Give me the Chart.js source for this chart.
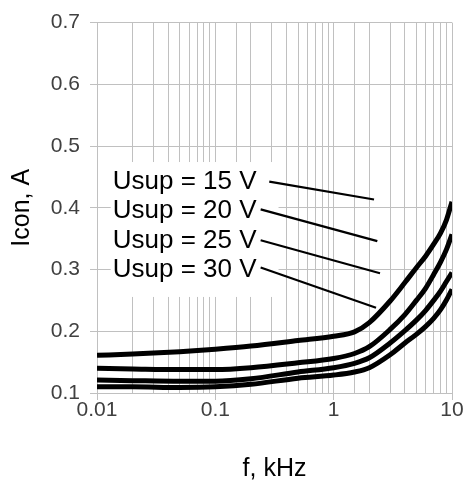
<!DOCTYPE html>
<html>
<head>
<meta charset="utf-8">
<script src="https://cdn.jsdelivr.net/npm/chart.js@4/dist/chart.umd.min.js"></script>
<style>
  html, body { margin: 0; padding: 0; background: #ffffff; }
  #wrap { width: 465px; height: 485px; }
</style>
</head>
<body>
<div id="wrap"><canvas id="c" width="465" height="485"></canvas></div>
<script>
// ---- data ----
const freqKHz = [0.01, 0.02, 0.05, 0.1, 0.2, 0.5, 1, 1.5, 2, 3, 4, 5, 6, 7, 8, 9, 10];
const seriesLabels = ["Usup = 15 V", "Usup = 20 V", "Usup = 25 V", "Usup = 30 V"];
const icon15V = [0.161, 0.163, 0.167, 0.171, 0.176, 0.185, 0.192, 0.199, 0.214, 0.249, 0.279, 0.303, 0.322, 0.341, 0.359, 0.381, 0.410];
const icon20V = [0.140, 0.139, 0.138, 0.138, 0.141, 0.149, 0.156, 0.164, 0.175, 0.203, 0.227, 0.250, 0.270, 0.292, 0.312, 0.333, 0.357];
const icon25V = [0.121, 0.120, 0.119, 0.119, 0.123, 0.134, 0.141, 0.148, 0.157, 0.181, 0.201, 0.218, 0.234, 0.250, 0.265, 0.281, 0.295];
const icon30V = [0.110, 0.110, 0.109, 0.110, 0.114, 0.124, 0.129, 0.134, 0.141, 0.162, 0.181, 0.195, 0.208, 0.221, 0.235, 0.251, 0.268];
const yTicks = [0.1, 0.2, 0.3, 0.4, 0.5, 0.6, 0.7];
const xTickLabels = ["0.01", "0.1", "1", "10"];

// annotation anchors (data coordinates: f in kHz, Icon in A)
const labelF = 0.01358;
const labelI = [0.4304, 0.3829, 0.3354, 0.2880];
const leaderStartF = [0.2857, 0.2415, 0.2415, 0.2415];
const leaderStartI = [0.4423, 0.3974, 0.3475, 0.3032];
const leaderEndF = [2.193, 2.338, 2.464, 2.280];
const leaderEndI = [0.4134, 0.3460, 0.2940, 0.2380];

const GRID = '#c0c0c0';
const FONT = "'Liberation Sans', Arial, sans-serif";

const curves = [icon15V, icon20V, icon25V, icon30V];
const datasets = [];
curves.forEach((vals, i) => {
  datasets.push({
    label: seriesLabels[i],
    data: freqKHz.map((f, k) => ({ x: f, y: vals[k] })),
    borderColor: '#000000',
    borderWidth: 5,
    pointRadius: 0,
    cubicInterpolationMode: 'monotone',
    fill: false
  });
});
for (let i = 0; i < 4; i++) {
  datasets.push({
    label: 'leader' + i,
    data: [{ x: leaderStartF[i], y: leaderStartI[i] }, { x: leaderEndF[i], y: leaderEndI[i] }],
    borderColor: '#000000',
    borderWidth: 2.2,
    pointRadius: 0,
    tension: 0,
    fill: false
  });
}

const isDecade = v => { const l = Math.log10(v); return Math.abs(l - Math.round(l)) < 1e-6; };

const labelPlugin = {
  id: 'usupLabels',
  beforeDatasetsDraw(chart) {
    const { ctx, scales: { x, y } } = chart;
    ctx.save();
    ctx.font = '26px ' + FONT;
    const left = x.getPixelForValue(labelF);
    let wmax = 0;
    seriesLabels.forEach(t => { wmax = Math.max(wmax, ctx.measureText(t).width); });
    const b0 = y.getPixelForValue(labelI[0]);
    const b3 = y.getPixelForValue(labelI[3]);
    ctx.fillStyle = '#ffffff';
    ctx.fillRect(left - 2, b0 - 27, wmax + 24, (b3 + 20) - (b0 - 27));
    ctx.fillStyle = '#000000';
    ctx.textAlign = 'left';
    ctx.textBaseline = 'alphabetic';
    seriesLabels.forEach((t, i) => {
      ctx.fillText(t, left, y.getPixelForValue(labelI[i]));
    });
    ctx.restore();
  }
};

new Chart(document.getElementById('c'), {
  type: 'line',
  data: { datasets },
  options: {
    responsive: false,
    animation: false,
    events: [],
    layout: { padding: { left: 0, right: 13, top: 19, bottom: 0 } },
    plugins: { legend: { display: false }, tooltip: { enabled: false } },
    scales: {
      x: {
        type: 'logarithmic',
        min: 0.01,
        max: 10,
        grid: {
          color: GRID,
          lineWidth: 1,
          tickLength: 7,
          tickColor: c => (c.tick && isDecade(c.tick.value)) ? GRID : 'rgba(0,0,0,0)'
        },
        border: { color: GRID, width: 1 },
        ticks: {
          autoSkip: false,
          maxRotation: 0,
          minRotation: 0,
          padding: 0,
          color: '#404040',
          font: { family: FONT, size: 21, lineHeight: 1.0 },
          callback: v => {
            if (!isDecade(v)) return '';
            const s = String(Number(v.toPrecision(6)));
            return xTickLabels.includes(s) ? s : '';
          }
        },
        title: {
          display: true,
          text: 'f, kHz',
          color: '#000000',
          font: { family: FONT, size: 25 },
          padding: { top: 0, bottom: 1 }
        },
        afterFit: s => { s.height = 92; }
      },
      y: {
        type: 'linear',
        min: 0.1,
        max: 0.7,
        grid: { color: GRID, lineWidth: 1, tickLength: 7, tickColor: GRID },
        border: { color: GRID, width: 1 },
        afterBuildTicks: s => { s.ticks = yTicks.map(v => ({ value: v })); },
        ticks: {
          padding: 10,
          color: '#404040',
          font: { family: FONT, size: 21 },
          callback: v => Number(v).toFixed(1)
        },
        title: {
          display: true,
          text: 'Icon, A',
          color: '#000000',
          font: { family: FONT, size: 25 },
          padding: { top: 7, bottom: 0 }
        },
        afterFit: s => { s.width = 97; }
      }
    }
  },
  plugins: [labelPlugin]
});
</script>
</body>
</html>
